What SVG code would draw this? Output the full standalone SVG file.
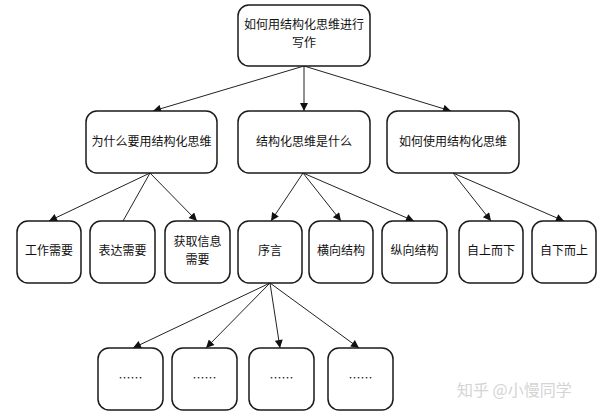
<svg xmlns="http://www.w3.org/2000/svg" width="600" height="414" viewBox="0 0 600 414">
<defs>
<marker id="arr" viewBox="0 0 10 10" refX="10" refY="5" markerWidth="10" markerHeight="8" markerUnits="userSpaceOnUse" orient="auto">
<path d="M0,0 L10,5 L0,10 z" fill="#111"/>
</marker>
<style>
.n rect{fill:#fff;stroke:#1a1a1a;stroke-width:1.5}
.n text{font-family:"Noto Sans CJK SC","Noto Sans",sans-serif;font-size:12px;fill:#111;text-anchor:middle}
.c line{stroke:#222;stroke-width:1}
.a{marker-end:url(#arr)}
.wm{font-family:"Noto Sans CJK SC",sans-serif;font-size:16px;fill:#d4d4d4}
</style>
</defs>
<rect width="600" height="414" fill="#fff"/>
<g class="c">
<line class="a" x1="304" y1="66" x2="153" y2="111"/>
<line class="a" x1="304" y1="66" x2="304" y2="111"/>
<line class="a" x1="304" y1="66" x2="451" y2="111"/>
<line class="a" x1="150" y1="173" x2="49" y2="221"/>
<line x1="150" y1="173" x2="123" y2="221"/>
<line class="a" x1="150" y1="173" x2="197" y2="221"/>
<line class="a" x1="303" y1="173" x2="271" y2="221"/>
<line class="a" x1="303" y1="173" x2="341" y2="221"/>
<line class="a" x1="303" y1="173" x2="414" y2="221"/>
<line class="a" x1="453" y1="173" x2="491" y2="221"/>
<line class="a" x1="453" y1="173" x2="564" y2="221"/>
<line class="a" x1="270" y1="283" x2="133" y2="348"/>
<line class="a" x1="270" y1="283" x2="206" y2="348"/>
<line class="a" x1="270" y1="283" x2="280" y2="348"/>
<line class="a" x1="270" y1="283" x2="359" y2="348"/>
</g>
<g id="n0" class="n"><rect x="238" y="5" width="132" height="61" rx="11"/><text x="304" y="29">如何用结构化思维进行</text><text x="304" y="47">写作</text></g>
<g id="n1" class="n"><rect x="86" y="111" width="131" height="62" rx="11"/><text x="151.5" y="146">为什么要用结构化思维</text></g>
<g id="n2" class="n"><rect x="238" y="111" width="132" height="62" rx="11"/><text x="304" y="146">结构化思维是什么</text></g>
<g id="n3" class="n"><rect x="387" y="111" width="132" height="62" rx="11"/><text x="453" y="146">如何使用结构化思维</text></g>
<g id="n4" class="n"><rect x="17" y="221" width="64" height="62" rx="11"/><text x="49" y="255">工作需要</text></g>
<g id="n5" class="n"><rect x="90" y="221" width="65" height="62" rx="11"/><text x="122.5" y="255">表达需要</text></g>
<g id="n6" class="n"><rect x="165" y="221" width="65" height="62" rx="11"/><text x="197.5" y="246">获取信息</text><text x="197.5" y="264">需要</text></g>
<g id="n7" class="n"><rect x="238" y="221" width="64" height="62" rx="11"/><text x="270" y="255">序言</text></g>
<g id="n8" class="n"><rect x="309" y="221" width="64" height="62" rx="11"/><text x="341" y="255">横向结构</text></g>
<g id="n9" class="n"><rect x="382" y="221" width="65" height="62" rx="11"/><text x="414.5" y="255">纵向结构</text></g>
<g id="n10" class="n"><rect x="459" y="221" width="64" height="62" rx="11"/><text x="491" y="255">自上而下</text></g>
<g id="n11" class="n"><rect x="532" y="221" width="64" height="62" rx="11"/><text x="564" y="255">自下而上</text></g>
<g id="n12" class="n"><rect x="98" y="348" width="65" height="62" rx="11"/><text x="130.5" y="383">……</text></g>
<g id="n13" class="n"><rect x="172" y="348" width="65" height="62" rx="11"/><text x="204.5" y="383">……</text></g>
<g id="n14" class="n"><rect x="249" y="348" width="65" height="62" rx="11"/><text x="281.5" y="383">……</text></g>
<g id="n15" class="n"><rect x="328" y="348" width="65" height="62" rx="11"/><text x="360.5" y="383">……</text></g>
<text class="wm" x="457" y="396">知乎 @小慢同学</text>
</svg>
